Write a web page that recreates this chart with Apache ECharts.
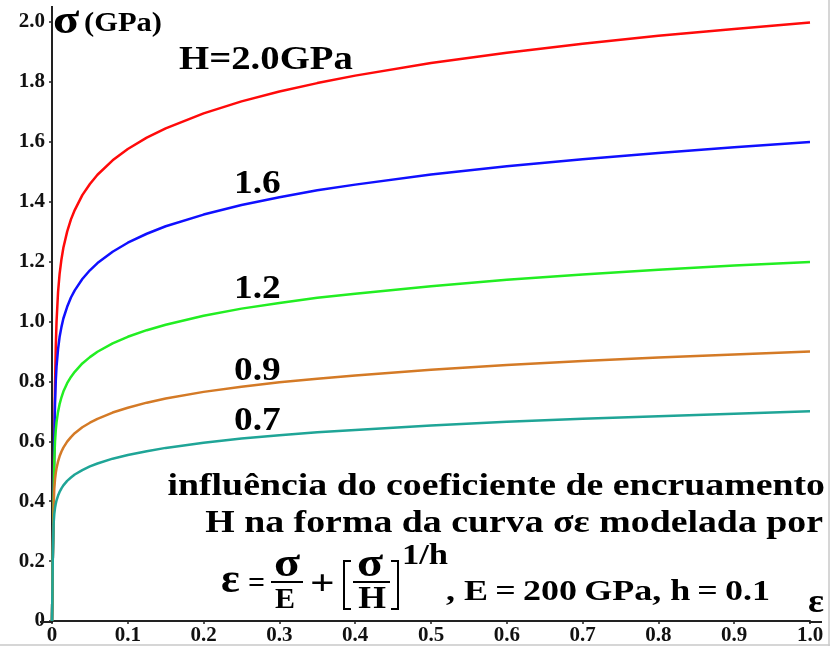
<!DOCTYPE html>
<html>
<head>
<meta charset="utf-8">
<script src="https://cdn.jsdelivr.net/npm/echarts@6/dist/echarts.min.js"></script>
<style>
html,body{margin:0;padding:0;background:#fff;}
#c{width:830px;height:646px;}
</style>
</head>
<body>
<div id="c"></div>
<script>
// strain values (ε) along the x axis
const strain = [0, 0.001, 0.002, 0.003, 0.004, 0.005, 0.006, 0.008, 0.01, 0.0125, 0.015, 0.02, 0.025, 0.03, 0.04, 0.05, 0.06, 0.08, 0.1, 0.125, 0.15, 0.2, 0.25, 0.3, 0.35, 0.4, 0.5, 0.6, 0.7, 0.8, 0.9, 1.0];
// stress values (σ, GPa)
const sigH20 = [0, 0.20, 0.40, 0.60, 0.785, 0.917, 1.00, 1.099, 1.158, 1.208, 1.246, 1.30, 1.341, 1.372, 1.422, 1.459, 1.49, 1.538, 1.576, 1.614, 1.645, 1.695, 1.735, 1.768, 1.796, 1.821, 1.863, 1.897, 1.927, 1.954, 1.977, 1.998];
const sigH16 = [0, 0.20, 0.40, 0.59, 0.73, 0.802, 0.85, 0.908, 0.948, 0.982, 1.010, 1.049, 1.080, 1.104, 1.142, 1.171, 1.195, 1.233, 1.263, 1.293, 1.318, 1.357, 1.389, 1.415, 1.438, 1.457, 1.491, 1.518, 1.542, 1.563, 1.582, 1.599];
const sigH12 = [0, 0.20, 0.40, 0.536, 0.60, 0.638, 0.664, 0.699, 0.724, 0.747, 0.766, 0.794, 0.815, 0.832, 0.860, 0.881, 0.899, 0.927, 0.949, 0.971, 0.989, 1.019, 1.043, 1.062, 1.079, 1.093, 1.118, 1.139, 1.157, 1.173, 1.187, 1.199];
const sigH09 = [0, 0.20, 0.37, 0.441, 0.474, 0.495, 0.51, 0.533, 0.55, 0.566, 0.579, 0.599, 0.614, 0.627, 0.647, 0.662, 0.675, 0.696, 0.712, 0.729, 0.743, 0.765, 0.782, 0.797, 0.809, 0.820, 0.839, 0.855, 0.868, 0.880, 0.890, 0.900];
const sigH07 = [0, 0.20, 0.32, 0.357, 0.378, 0.392, 0.403, 0.419, 0.431, 0.443, 0.453, 0.468, 0.479, 0.489, 0.504, 0.516, 0.526, 0.542, 0.554, 0.567, 0.578, 0.595, 0.609, 0.620, 0.630, 0.638, 0.653, 0.665, 0.675, 0.684, 0.692, 0.700];
const seriesNames = ['H=2.0', 'H=1.6', 'H=1.2', 'H=0.9', 'H=0.7'];
const seriesData = [sigH20, sigH16, sigH12, sigH09, sigH07];
const curveLabels = ['H=2.0GPa', '1.6', '1.2', '0.9', '0.7'];
const textLine1 = 'influência do coeficiente de encruamento';
const textLine2 = 'H na forma da curva σε modelada por';
const formulaTail = ', E\u2009=\u2009200\u2009GPa, h\u2009=\u20090.1';

const colors = ['#ff0a0a', '#1010ff', '#22ee22', '#d47a26', '#1fa597'];
const SERIF = '"Liberation Serif", "Times New Roman", serif';
const fmt = v => (Math.abs(v) < 1e-9 ? '0' : v.toFixed(1));

const chart = echarts.init(document.getElementById('c'), null, {renderer: 'canvas'});

const labelFont = {fontFamily: SERIF, fontWeight: 'bold', fontSize: 21, color: '#111'};

function T(x, y, text, size, align, sx) {
  return {
    type: 'text', x: x, y: y, z: 10, scaleX: sx || 1, scaleY: 1, originX: 0, originY: 0,
    style: {text: text, font: 'bold ' + size + 'px ' + SERIF, fill: '#000', align: align || 'left', verticalAlign: 'middle'}
  };
}
function L(x1, y1, x2, y2, w, c) {
  return {type: 'line', z: 10, shape: {x1: x1, y1: y1, x2: x2, y2: y2}, style: {stroke: c || '#000', lineWidth: w || 2}};
}

const graphics = [
  // axis extensions
  L(52, 6, 52, 23, 2, '#222'),
  L(40, 622, 53, 622, 2, '#222'),
  L(809, 622, 822, 622, 2, '#222'),
  // frame lines of the picture
  L(829, 0, 829, 646, 1.5, '#c8c8c8'),
  L(0, 645, 830, 645, 1.5, '#c8c8c8'),
  // axis titles
  T(53, 22, 'σ', 42, 'left', 1.15),
  T(84, 24.5, '(GPa)', 27, 'left', 1.13),
  T(808, 603, 'ε', 34, 'left', 1.1),
  // curve labels
  T(179, 60, curveLabels[0], 34, 'left', 1.14),
  T(234, 184, curveLabels[1], 34, 'left', 1.1),
  T(234, 289, curveLabels[2], 34, 'left', 1.1),
  T(234, 371, curveLabels[3], 34, 'left', 1.1),
  T(234, 421, curveLabels[4], 34, 'left', 1.1),
  // text block
  T(825, 487, textLine1, 31, 'right', 1.22),
  T(823, 524, textLine2, 31, 'right', 1.22),
  // formula
  T(221, 582, 'ε', 40, 'left', 1.1),
  T(248, 584, '=', 30, 'left', 1.0),
  T(287, 566, 'σ', 40, 'center', 1.2),
  L(271, 582, 303, 582, 2),
  T(285, 600, 'E', 30, 'center', 1.0),
  T(310, 585.5, '+', 36, 'left', 1.2),
  L(344, 560, 344, 610, 2), L(343, 561, 351, 561, 2), L(343, 609, 351, 609, 2),
  T(370, 566, 'σ', 40, 'center', 1.2),
  L(353, 582, 390, 582, 2),
  T(372, 600, 'H', 31, 'center', 1.15),
  L(398, 560, 398, 610, 2), L(391, 561, 399, 561, 2), L(391, 609, 399, 609, 2),
  T(402, 556, '1/h', 30, 'left', 1.15),
  T(446, 592, formulaTail, 30, 'left', 1.2)
];

chart.setOption({
  animation: false,
  backgroundColor: '#ffffff',
  grid: {left: 52, right: 20, top: 22, bottom: 24, containLabel: false},
  xAxis: {
    type: 'value', min: 0, max: 1, interval: 0.1,
    axisLine: {show: true, lineStyle: {color: '#222', width: 2}},
    axisTick: {show: true, length: 3, lineStyle: {color: '#222', width: 1.5}},
    splitLine: {show: false},
    axisLabel: Object.assign({margin: 4, formatter: fmt}, labelFont)
  },
  yAxis: {
    type: 'value', min: 0, max: 2, interval: 0.2,
    axisLine: {show: true, lineStyle: {color: '#222', width: 2}},
    axisTick: {show: true, length: 3, lineStyle: {color: '#222', width: 1.5}},
    splitLine: {show: false},
    axisLabel: Object.assign({margin: 7, formatter: fmt}, labelFont)
  },
  series: seriesData.map((d, i) => ({
    name: seriesNames[i],
    type: 'line',
    data: strain.map((x, k) => [x, d[k]]),
    showSymbol: false,
    smooth: false,
    lineStyle: {color: colors[i], width: 2.5},
    itemStyle: {color: colors[i]}
  })),
  graphic: graphics
});
</script>
</body>
</html>
